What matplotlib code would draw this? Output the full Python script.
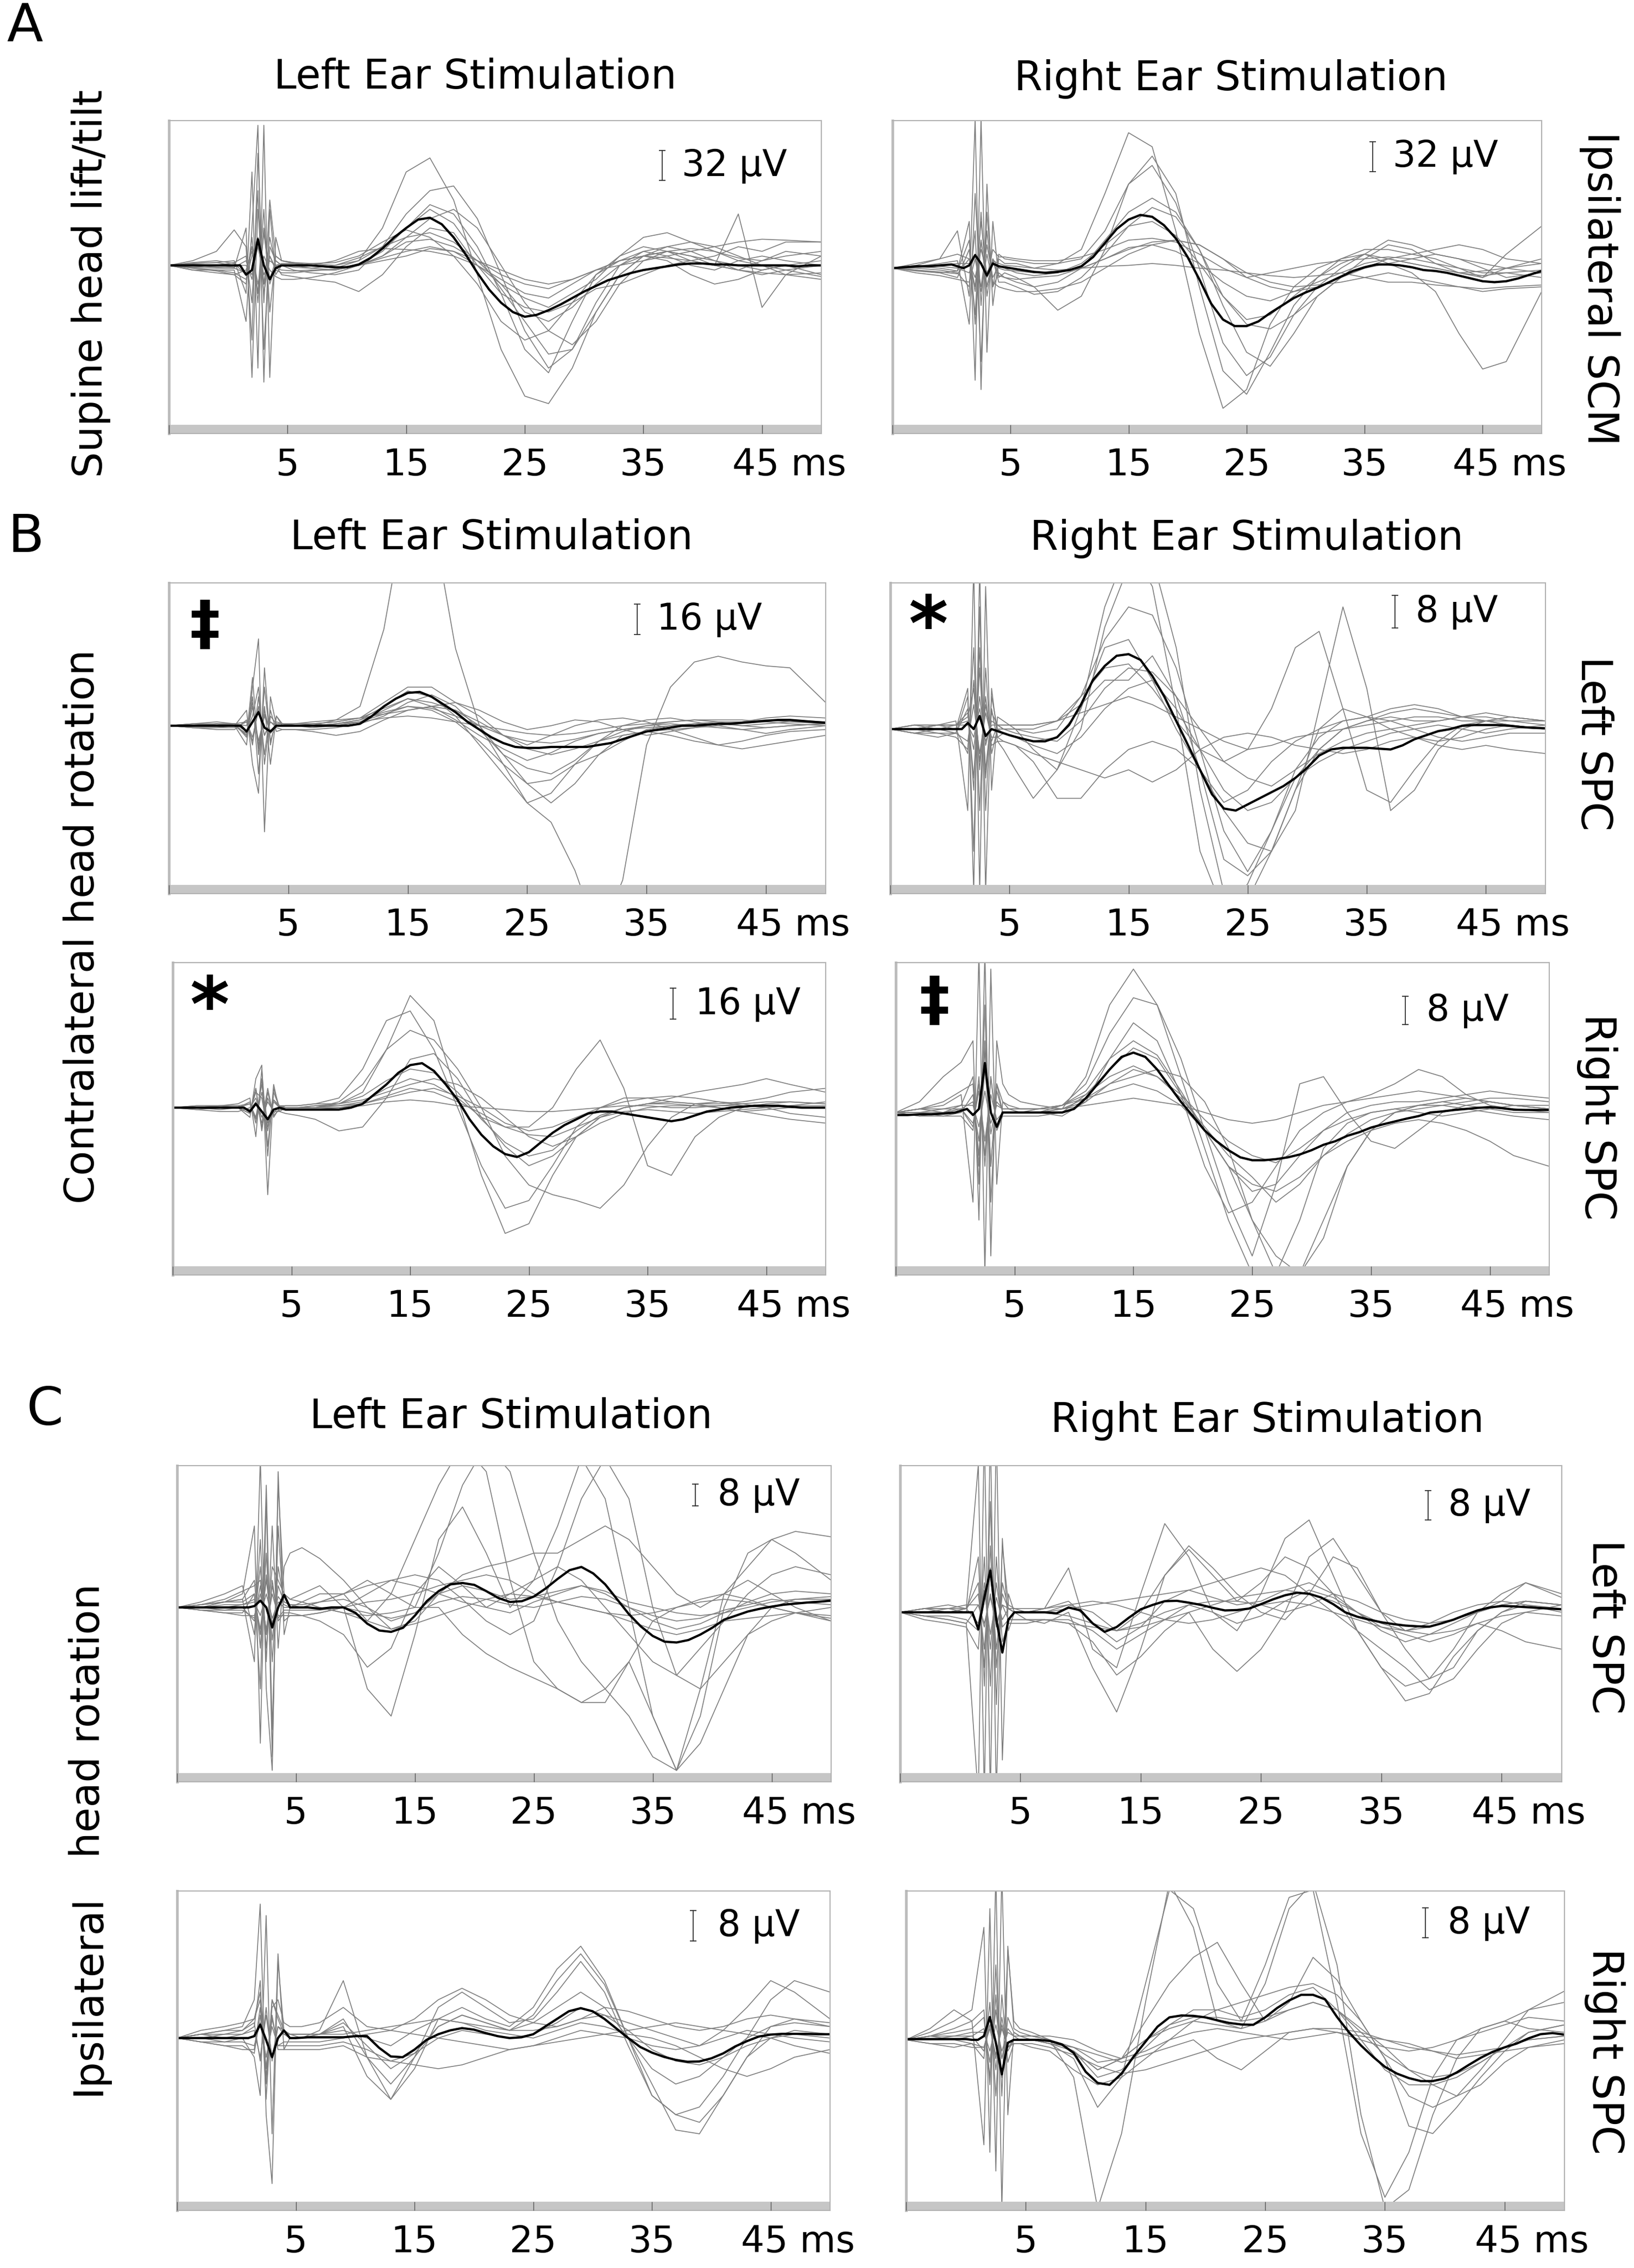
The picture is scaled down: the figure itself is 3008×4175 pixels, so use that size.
import matplotlib
matplotlib.use("Agg")
import matplotlib.pyplot as plt
import matplotlib.transforms as mtransforms
from matplotlib.patches import Rectangle

# sample times (ms) of the single trials and of the averaged trace
t_trial = [-5, -3, -1, 0.5, 1.5, 2.0, 2.5, 3.0, 3.5, 4.0, 4.5, 5.5, 7, 9, 11, 13, 15, 17, 19, 21,
           23, 25, 27, 29, 31, 33, 35, 37, 39, 41, 43, 45, 47, 50]
t_mean = [-5, -4, -3, -2, -1, 0, 0.5, 1, 1.5, 2, 2.5, 3, 3.5, 4, 4.5,
          5, 6, 7, 8, 9, 10, 11, 12, 13, 14, 15, 16, 17, 18, 19, 20, 21, 22, 23, 24,
          25, 26, 27, 28, 29, 30, 31, 32, 33, 34, 35, 36, 37, 38, 39, 40, 41, 42, 43, 44,
          45, 46, 47, 48, 49, 50]

tick_pos = [-5, 5, 15, 25, 35, 45]
tick_lab = ["", "5", "15", "25", "35", "45 ms"]

# ---- A: supine head lift/tilt, ipsilateral SCM (uV) ----
a_left_mean = [0, 0, 0, 0, 0, 0, 0, 0, -10, -5, 28, 0, -15, -3, 0,
               0, 0, 0, -1, -2, -2, 1, 8, 18, 30, 40, 49, 51, 44, 30, 12, -8, -26, -40, -50,
               -55, -53, -48, -42, -35, -28, -22, -16, -12, -8, -5, -3, -1, 1, 2, 2, 1, 1, 0, 0,
               0, 0, 0, -1, 0, 0]
a_left_trials = [
    [0, 2, 3, 5, -30, 100, -110, 150, -120, 30, 5, 3, 2, 0, 5, 40, 100, 115, 70, -10, -90, -140, -148, -110, -50, -10, 10, 15, 10, 5, 0, -5, 0, 5],
    [0, -3, -5, -5, -60, 40, 150, -125, 60, -10, 0, -5, -8, -10, -5, 20, 55, 80, 85, 50, -10, -70, -110, -90, -40, 0, 15, 10, 0, -5, 5, 10, 5, 0],
    [0, 5, 15, 38, 20, -80, 120, -40, 70, 10, 5, 2, 0, -2, 0, 15, 40, 65, 55, 20, -30, -90, -115, -60, -10, 10, 20, 15, 5, 0, 55, -45, -10, 10],
    [0, -5, -8, -10, -20, 30, -40, 40, -20, 0, -10, -12, -15, -18, -28, -10, 20, 40, 35, 0, -30, -45, -50, -40, -25, -20, -10, 0, 5, 10, 20, 15, 25, 25],
    [0, 0, -2, -3, 40, -120, 60, -20, 30, 0, 0, 0, 2, 3, 10, 25, 38, 30, 10, -20, -60, -80, -70, -40, -10, 5, 15, 20, 15, 5, -5, -10, -5, 0],
    [0, 3, 5, 2, -10, 20, -30, 60, -50, 10, 5, 3, 0, 5, 15, 18, 17, 15, 10, 0, -20, -35, -45, -30, -15, 10, 30, 35, 25, 15, 5, 0, -10, -15],
    [0, -2, 0, 3, 10, -40, 80, -90, 20, 5, 0, 0, -3, -5, 0, 10, 30, 50, 60, 40, 0, -40, -70, -85, -60, -20, 5, 15, 10, 0, -5, 5, 15, 10],
    [0, -5, -5, -8, -15, 10, 30, -30, 10, -5, -8, -8, -6, -4, 0, 5, 10, 18, 15, 5, -5, -15, -20, -15, -5, 0, 5, 10, 15, 20, 25, 28, 27, 25],
    [0, 2, 3, 0, 0, -10, 20, -10, 5, 0, 2, 2, 0, -3, 5, 20, 40, 60, 45, 10, -25, -60, -95, -90, -50, -10, 10, 5, -10, -20, -15, -5, 0, -10],
    [0, -3, -6, -10, -5, 15, -20, 10, -5, -12, -15, -15, -13, -8, 0, 8, 15, 20, 15, 0, -15, -30, -35, -20, -5, 5, 10, 20, 25, 20, 10, 0, -5, -12],
    [0, 1, 0, -2, 5, -15, 25, -20, 10, -3, -5, -6, -5, -5, 0, 10, 25, 28, 20, 5, -10, -20, -25, -15, -5, 5, 10, 8, 5, 0, -5, -8, -10, -8],
    [0, -2, -3, -3, -8, 20, -30, 35, -15, 5, 0, -2, -3, 0, 8, 20, 30, 35, 25, 5, -20, -50, -60, -45, -20, 0, 10, 15, 18, 15, 8, 5, 10, 15],
]

a_right_mean = [0, 1, 2, 2, 3, 4, 2, 0, 3, 14, 5, -8, 5, 2, 1,
                0, -2, -4, -5, -4, -2, 2, 12, 27, 42, 52, 57, 55, 46, 32, 12, -12, -38, -55, -62,
                -62, -57, -48, -40, -32, -26, -21, -15, -9, -3, 1, 4, 4, 3, 1, -2, -3, -5, -8, -11,
                -14, -15, -14, -11, -7, -3]
a_right_trials = [
    [0, 3, 10, 40, -30, 160, -130, 90, -40, 10, 5, 5, 0, 5, 20, 80, 145, 130, 40, -70, -150, -130, -60, -20, 0, 10, 20, 20, 15, 10, 0, -10, 0, 10],
    [0, -3, -5, -3, 50, -120, 160, -90, 50, -10, -5, -10, -20, -45, -30, 20, 90, 120, 80, -20, -110, -135, -90, -40, -10, 10, 15, 5, -5, -25, -70, -108, -100, -25],
    [0, 2, 5, 8, -60, 80, -40, 40, -20, 15, 10, 8, 5, 5, 10, 40, 90, 110, 70, 0, -80, -115, -95, -50, -20, 0, 15, 30, 25, 15, 10, 0, -10, -5],
    [0, -2, -5, -10, 20, -50, 60, -30, 10, -15, -15, -20, -28, -25, -10, 15, 45, 65, 55, 20, -30, -60, -65, -50, -30, -10, 10, 25, 20, 5, -5, -10, 15, 45],
    [0, 5, 10, 15, 10, -20, 50, -10, 20, 12, 12, 10, 8, 8, 12, 20, 30, 32, 28, 15, 0, -10, -5, 0, 5, 8, 10, 12, 10, 5, 0, -5, -5, -10],
    [0, 0, -2, -5, -20, 40, -100, 60, -20, -5, -10, -15, -20, -15, 0, 30, 60, 75, 60, 20, -40, -90, -105, -70, -30, -10, 0, 5, 10, 15, 10, 5, 0, -5],
    [0, 2, 0, -3, 30, -60, 30, -20, 10, 0, -2, -3, -5, -3, 0, 10, 20, 28, 30, 25, 10, -10, -20, -25, -20, -10, 0, 10, 15, 20, 25, 20, 10, 5],
    [0, -5, -8, -12, -15, 10, -25, 15, -15, -20, -22, -25, -25, -22, -15, 0, 15, 25, 30, 25, 10, -5, -15, -20, -18, -15, -10, -5, -10, -15, -20, -25, -22, -20],
    [0, 2, 3, 5, 5, -10, 20, -5, 8, 5, 3, 2, 0, -2, 0, 2, 3, 5, 3, 0, -2, -5, -8, -10, -8, -5, -10, -15, -15, -18, -20, -22, -20, -18],
    [0, 1, 2, 0, -5, 15, -20, 25, -10, 3, 0, -5, -8, -5, 5, 25, 45, 50, 35, 5, -30, -55, -50, -30, -10, 5, 15, 10, 5, 0, -5, -3, 0, 5],
    [0, -2, -4, -6, 10, -25, 30, -20, 8, -8, -10, -12, -10, -8, 0, 10, 22, 25, 18, 5, -15, -30, -35, -25, -15, -5, 5, 10, 5, 0, -5, -8, -5, -2],
]

# ---- B: contralateral head rotation, SPC ----
b_top_left_mean = [0, 0, 0, 0, 0, 0, 0, 0, -3, 2, 7, -1, -3, 0, 0,
                   0, 0, 0, 0, 0, 0, 1, 5, 10, 14, 17, 17.5, 15, 11, 7, 2, -2, -6, -9, -11,
                   -11.5, -11.5, -11, -11, -11, -11, -10, -9, -7, -5, -3, -2, -1, 0, 0, 0.5, 1, 1, 1.5, 2,
                   2.5, 3, 3, 2.5, 2, 1.5]
b_top_left_trials = [
    [0, 0, 1, 0, -5, 10, -8, 5, -3, 0, 0, 0, 0, 3, 10, 50, 120, 110, 40, 0, -20, -40, -50, -75, -110, -80, -10, 20, 33, 36, 33, 31, 30, 12],
    [0, 0, 1, 0, -10, 20, 45, -55, 15, 0, 0, 0, 0, 1, 3, 10, 18, 15, 5, -10, -25, -40, -35, -20, -8, -3, 0, 2, 3, 2, 0, 1, 2, 2],
    [0, -1, -1, 0, 8, -20, -35, 30, -10, 5, 0, 0, -1, 0, 2, 8, 14, 12, 8, 0, -15, -30, -40, -30, -15, -5, -3, -5, -8, -10, -8, -5, -3, -2],
    [0, 1, 1, 1, -5, 15, -25, 20, -8, 2, 1, 0, 1, 2, 4, 12, 20, 20, 12, 5, -5, -12, -15, -12, -8, -5, -3, -2, -1, 0, 2, 3, 3, 2],
    [0, -1, -2, -2, 3, -10, 15, -15, 8, -3, -2, -2, -3, -5, -3, 3, 8, 10, 8, 2, -5, -10, -5, 0, 3, 4, 2, -2, -6, -10, -12, -10, -8, -5],
    [0, 0, 0, 1, 0, 12, -12, 8, -4, 0, 0, 1, 1, 0, 2, 6, 10, 8, 2, -8, -20, -30, -28, -20, -15, -8, -2, 0, 1, 1, 0, -1, 0, 1],
    [0, 1, 2, 1, -3, 5, 20, -20, 5, 1, 1, 1, 2, 3, 4, 6, 8, 10, 12, 8, 2, -2, 0, 3, 2, -2, -5, -3, -1, 1, 2, 4, 5, 4],
    [0, -1, -1, -1, 2, -8, 10, -5, 2, -1, -2, -2, -2, -1, 1, 5, 12, 16, 10, -2, -15, -22, -25, -18, -8, 0, 3, 4, 2, 0, -2, -4, -2, 0],
    [0, 0, 1, 1, -6, 25, -15, 10, -20, 5, 1, 0, 0, 1, 2, 4, 5, 4, 2, 0, -2, -4, -5, -4, -2, 0, 1, 2, 3, 3, 3, 2, 1, 0],
    [0, 0, 0, 1, 2, -6, 8, -5, 2, 0, 0, 0, 0, 1, 3, 7, 10, 9, 5, 0, -5, -8, -9, -7, -4, -2, -1, 0, 1, 2, 2, 3, 2, 1],
    [0, 1, 0, 0, -4, 10, -10, 6, -3, 1, 1, 1, 1, 2, 4, 9, 14, 10, 3, -5, -12, -18, -14, -8, -4, -2, 0, 1, 0, -1, -2, -1, 0, 1],
]

b_top_right_mean = [0, 0, 0, 0, 0, 0, 0, 0, 1.5, 0, 3.2, -1.7, 0, -0.5, -1,
                    -1.5, -2.3, -3, -3, -2, 1, 6, 12, 15.5, 18, 18.4, 17, 13, 8, 2, -4, -10, -16, -19.5, -20,
                    -18.5, -17, -15.5, -14, -12, -9.5, -6.5, -5, -4.6, -4.6, -4.6, -4.8, -5, -4, -2.5, -1.5, -0.5, 0, 0.8, 1,
                    1, 1, 0.8, 0.5, 0.3, 0.2]
b_top_right_trials = [
    [0, 0, 1, 0, 10, -40, 40, -40, 10, -2, -1, -2, -3, -2, 5, 30, 45, 35, 5, -30, -45, -38, -25, -12, -5, 0, 2, 4, 5, 4, 3, 2, 1, 0],
    [0, 1, 1, 2, -20, 40, -40, 35, -15, 3, 2, 0, -5, -10, 0, 25, 40, 42, 20, -15, -40, -42, -30, -15, 0, 5, 3, 0, -2, -3, -2, 0, 1, 0],
    [0, -1, -2, -1, 5, -15, 20, -12, 5, -3, -5, -10, -17, -10, 5, 20, 22, 12, 0, -10, -20, -28, -30, -20, 5, 30, 10, -20, -15, -5, 0, 2, 3, 2],
    [0, 1, 0, 1, 3, 10, -8, 6, -3, 1, 0, 0, 0, 2, 8, 15, 16, 10, 2, -5, -8, -5, 5, 20, 24, 5, -15, -18, -10, -3, 1, 2, 1, 0],
    [0, 0, -1, -1, -3, 6, -6, 4, -2, -2, -3, -4, -8, -17, -17, -10, -5, -3, -5, -10, -18, -15, -8, -3, 0, 2, 3, 5, 6, 5, 3, 2, 2, 1],
    [0, 1, 1, 1, 2, -5, 8, -4, 2, 1, 1, 1, 1, 2, 4, 6, 8, 6, 3, 0, -3, -5, -4, -2, -1, 0, 1, 2, 3, 3, 2, 2, 3, 2],
    [0, 0, 0, -1, 8, -30, 30, -20, 8, 0, 0, 0, -1, 0, 8, 22, 30, 28, 15, -5, -25, -35, -25, -10, -2, 2, 3, 2, 0, -2, -3, -2, -1, -1],
    [0, -1, -1, -2, -5, 12, -10, 8, -4, -3, -3, -4, -6, -8, -10, -12, -10, -13, -10, -5, -2, -1, -2, -4, -5, -6, -5, -3, -2, -4, -5, -4, -5, -6],
    [0, 0, 1, 1, 1, -2, 5, -3, 1, 1, 1, 1, 1, 2, 6, 12, 12, 18, 8, -10, -32, -36, -30, -15, -5, 0, 2, 3, 2, 2, 3, 4, 3, 2],
    [0, 0, 1, 1, 4, -12, 15, -10, 4, 1, 0, -1, -2, -3, 2, 10, 15, 14, 8, 0, -8, -12, -14, -10, -6, -3, -1, 0, 1, 2, 3, 3, 2, 2],
    [0, -1, 0, 0, -6, 20, -20, 15, -6, 0, -1, -2, -4, -6, -2, 5, 10, 12, 5, -5, -15, -20, -18, -12, -8, -5, -3, -1, 0, 1, 0, -1, 0, 1],
]

b_bot_left_mean = [0, 0, 0, 0, 0, 0, 0, 0, -2, 2, -2, -6, -1, 0, -1,
                   -1, -1, -1, -1, -1, 0, 2, 7, 12, 18, 22, 23, 19, 12, 4, -6, -14, -20, -24, -25.5,
                   -23, -18, -13, -9, -6, -3, -2, -2, -3, -4, -5, -6, -7, -6, -4, -2, -1, 0, 0.5, 1,
                   1, 1, 0.5, 0, 0, 0]
b_bot_left_trials = [
    [0, 0, 0, 0, -5, 15, 22, -45, 10, 0, 0, 0, 0, 2, 8, 30, 58, 45, 5, -35, -65, -60, -35, -15, -5, 0, 2, 3, 2, 0, -2, -1, 0, 0],
    [0, 1, 1, 2, 5, -15, 20, -20, 8, 0, 1, 1, 2, 5, 20, 45, 50, 30, 0, -30, -52, -48, -30, -10, 0, 5, 5, 3, 2, 2, 3, 5, 8, 10],
    [0, -1, 0, 0, -3, 10, -10, 5, -3, 1, 0, 0, 0, 3, 12, 30, 40, 35, 20, 0, -25, -40, -45, -48, -52, -40, -20, -5, 2, 3, 2, 0, -3, -5],
    [0, 0, 1, 0, 2, -5, 12, -8, 3, 0, 0, 0, 0, 1, 3, 10, 15, 12, 5, -5, -10, -10, 0, 20, 35, 10, -30, -35, -15, -5, 0, 2, 3, 2],
    [0, -1, -2, -2, 0, 5, -5, 3, -2, -2, -3, -4, -6, -12, -10, 5, 25, 28, 15, -5, -20, -30, -25, -15, -5, 0, 2, 5, 8, 10, 12, 15, 12, 8],
    [0, 1, 1, 1, -2, 8, 5, -12, 4, 1, 1, 1, 2, 2, 4, 8, 12, 15, 12, 5, -5, -15, -20, -15, -8, -3, 0, 1, 1, 0, -2, -4, -6, -8],
    [0, 0, 0, 0, 3, -8, 15, -25, 12, -2, 0, 0, 1, 1, 2, 5, 8, 10, 6, 0, -8, -12, -10, -5, 0, 3, 5, 6, 5, 3, 1, 0, 1, 3],
    [0, 0, 0, 0, -1, 3, -8, 10, -5, 0, 0, 0, 0, 0, 1, 3, 4, 3, 1, 0, -1, -2, -2, -1, 0, 1, 1, 0, 0, 1, 1, 1, 0, 0],
    [0, 0, 1, 1, 2, -6, 8, -10, 4, 0, 0, 0, 1, 2, 6, 14, 20, 18, 8, -6, -18, -25, -22, -12, -4, 0, 2, 2, 1, 1, 2, 3, 3, 2],
    [0, 0, -1, 0, -3, 10, -12, 8, -4, -1, -1, -1, -1, 0, 2, 6, 10, 8, 3, -3, -10, -14, -15, -10, -5, -2, -1, -2, -3, -2, -1, 0, 1, 1],
]

b_bot_right_mean = [-0.7, -0.7, -0.5, -0.5, -0.3, 0, 0.5, 1, -0.7, 1, 13.8, 0, -4, 0, 0,
                    0, 0, 0, 0, 0, 1, 4, 8, 12, 15.5, 16.7, 15.5, 12, 7.5, 3, -1, -5, -8, -10.5, -12.5,
                    -13.3, -13.3, -13, -12.5, -11.7, -10.5, -9, -8, -6.5, -5.5, -4.2, -3.3, -2.5, -1.7, -1, 0, 0.3, 0.7, 1, 1.3,
                    1.5, 1.2, 0.8, 0.7, 0.7, 0.7]
b_bot_right_trials = [
    [0, 3, 10, 14, 20, -30, 45, -40, 20, 8, 5, 3, 2, 1, 10, 30, 40, 30, 10, -10, -30, -45, -50, -45, -30, -15, -5, 0, 2, 3, 4, 3, 2, 1],
    [0, 1, 2, 5, -25, 45, -45, 40, -20, 3, 1, 0, 0, 2, 8, 22, 32, 30, 15, -5, -25, -40, -20, 8, 10, 0, -8, -10, -5, 0, 2, 3, 2, 1],
    [0, -1, 0, 2, 10, -20, 30, -25, 8, 0, 0, 0, 0, -1, 3, 15, 25, 20, 5, -15, -28, -25, -15, -5, 0, 3, 5, 8, 12, 10, 5, 2, 1, 0],
    [0, 0, -1, -1, -5, 10, -15, 10, -5, -1, -1, -1, -1, 0, 5, 12, 18, 15, 5, -5, -15, -20, -22, -18, -12, -8, -5, -3, -2, -3, -5, -8, -12, -15],
    [0, 1, 1, 1, 3, -8, 12, -6, 3, 1, 1, 1, 1, 2, 5, 10, 13, 10, 5, -2, -8, -12, -14, -10, -5, -2, 0, 1, 2, 2, 3, 4, 4, 3],
    [0, -1, -1, 0, 5, -12, 18, -15, 6, 0, 0, 0, 0, 1, 4, 8, 10, 12, 10, 3, -10, -30, -45, -30, -10, -3, 0, 1, 0, -1, 0, 1, 2, 2],
    [0, 1, 0, 1, -3, 6, -8, 5, -2, 0, 0, 0, 1, 2, 4, 6, 8, 6, 2, -5, -15, -30, -40, -45, -35, -15, -5, 0, 2, 3, 2, 1, 0, 0],
    [0, 0, 1, 2, 2, -4, 6, -3, 2, 1, 1, 1, 1, 1, 2, 3, 4, 3, 2, 0, -2, -3, -2, 0, 2, 3, 4, 5, 6, 5, 4, 3, 2, 1],
    [0, 1, 3, 6, 8, -15, 20, -15, 8, 3, 2, 1, 1, 2, 6, 15, 20, 16, 6, -5, -15, -22, -20, -12, -5, 0, 2, 3, 3, 4, 5, 6, 5, 4],
    [0, 0, 0, 1, -4, 8, -12, 10, -4, 0, 0, 0, 0, 1, 3, 8, 12, 10, 4, -4, -12, -18, -25, -20, -12, -6, -2, 0, 1, 2, 1, 0, -1, -2],
]

# ---- C: ipsilateral head rotation, SPC ----
c_top_left_mean = [0, 0, 0, 0, 0, 0, 0, 0, 0.5, 2.5, 0, -7.4, 0, 4.6, 0,
                   0, 0, -0.5, 0, 0, -2, -6, -8.5, -9, -7.5, -3, 2.3, 6, 8.5, 9, 8.3, 6, 3.5, 2, 2.3,
                   4, 7, 10.5, 13.7, 14.9, 12.5, 8.5, 3, -2.5, -7, -10.5, -12.6, -12.9, -12, -10, -7.5, -4.5, -3, -1.5, -0.5,
                   0.3, 1, 1.4, 1.8, 2.1, 2.5]
c_top_left_trials = [
    [0, 1, 2, 3, -20, 55, -30, -60, 50, -10, 0, 2, 5, 5, -5, 5, 25, 45, 60, 50, 10, -20, -30, -35, -30, -20, -40, -60, -40, 0, 20, 25, 20, 10],
    [0, 0, 2, 5, 30, -50, 40, -55, 45, 5, 3, 5, 8, 0, -30, -40, -10, 25, 37, 20, 0, 10, 30, 55, 40, 0, -40, -60, -30, 5, 10, 5, 0, -5],
    [0, 2, 5, 8, -10, 25, -20, 30, -15, 15, 20, 22, 18, 10, 0, -8, -5, 5, 12, 15, 17, 20, 20, 25, 30, 25, 15, 5, 0, 5, 15, 25, 28, 26],
    [0, -1, -2, -2, 5, -30, 45, -45, 30, -5, -3, -3, -5, -10, -22, -15, 5, 15, 8, 0, 5, 10, 15, 10, 0, -10, -20, -25, -15, -5, 5, 12, 15, 12],
    [0, 1, 2, 3, 10, -15, 20, -20, 15, 2, 1, 0, 2, 5, 10, 5, 0, 20, 45, 60, 50, 20, -5, -20, -30, -40, -55, -60, -50, -30, -10, 0, 3, 3],
    [0, -1, -1, 0, -5, 15, -15, 10, -5, -2, -2, -3, -2, 0, 5, 10, 12, 10, 3, -5, -10, -5, 15, 40, 55, 40, 0, -25, -30, -20, -10, -5, -2, 0],
    [0, 0, 1, 1, 3, -8, 10, -6, 4, 1, 0, 0, 2, 5, 8, 10, 8, 5, 2, 0, -2, 2, 5, 8, 6, 2, 0, -2, -3, -2, 0, 2, 3, 4],
    [0, -1, -2, -3, -3, 5, -8, 5, -3, -3, -3, -3, -2, 0, 2, 3, 5, 8, 10, 12, 10, 5, 2, 0, -2, -5, -8, -10, -8, -5, -4, -3, -2, -3],
    [0, 0, 0, 1, 2, -3, 5, -4, 2, 0, 0, 0, 0, -2, -5, -8, -6, -3, 0, 3, 5, 4, 2, 0, -2, -3, -2, 0, 2, 3, 2, 0, -2, -4],
    [0, 1, 3, 6, 8, 10, -10, 15, 10, 5, 3, 2, 0, -2, -3, -2, 0, 0, -10, -17, -22, -26, -30, -35, -35, -20, -5, 0, 3, 5, 3, 0, -2, -5],
    [0, 1, 2, 2, 5, -10, 12, -12, 8, 2, 1, 1, 2, 3, 0, -5, -2, 5, 8, 6, 3, 4, 6, 8, 5, 0, -5, -8, -6, -2, 2, 5, 6, 5],
    [0, 0, -1, -1, -4, 8, -10, 8, -4, -1, -1, -1, -1, 0, -2, -4, -2, 2, 4, 3, 1, 0, 2, 4, 3, 0, -3, -5, -4, -1, 1, 3, 2, 1],
]

c_top_right_mean = [0, 0, 0, 0, 0, 0, 0, 0, -4.6, 4, 11.3, -2, -10.9, -2, 0,
                    0, 0, 0, -0.3, 1.3, 0.5, -3, -5.3, -4, -1.5, 0.8, 2, 3, 3.1, 2.6, 2, 1.2, 0.5, 0.6, 1,
                    2.2, 3.5, 4.6, 5.3, 5, 4, 2.2, 0, -1.2, -2, -2.7, -3.2, -3.6, -3.8, -3.9, -3, -2, -0.7, 0.5, 1.3,
                    1.7, 1.6, 1.4, 1.2, 1, 0.8]
c_top_right_trials = [
    [0, 0, 1, 1, 40, -50, 50, -50, 20, -5, 0, 0, 1, 12, -10, -15, 5, 24, 15, 0, -5, 5, 20, 25, 10, -5, -15, -20, -18, -10, 0, 5, 8, 5],
    [0, -1, -2, -3, -50, 50, -50, 50, -40, 5, 0, -2, -3, 0, -15, -27, -10, 10, 17, 10, 3, 8, 15, 12, 5, -5, -15, -24, -22, -12, -5, 0, 2, 1],
    [0, 1, 1, 0, 15, -20, 30, -25, 18, 2, 1, 0, 0, 2, 0, -5, 0, 10, 18, 12, 5, 0, -2, 5, 15, 12, 0, -10, -18, -15, -5, 0, 3, 2],
    [0, -2, -3, -4, -10, 15, -20, 15, -8, -3, -3, -3, -2, -3, -8, -17, -12, -5, 0, -10, -16, -10, 0, 15, 20, 10, 0, -5, -3, 0, 2, 3, 2, 0],
    [0, 0, 0, 1, 5, -10, 12, -10, 5, 1, 0, 0, 0, 1, 2, 3, 4, 5, 6, 8, 10, 12, 10, 5, 0, -5, -10, -15, -21, -18, -10, -3, 0, 2],
    [0, 1, 2, 1, -3, 6, -6, 4, -2, 1, 0, 0, 0, -1, -3, -5, -3, 0, 2, 3, 3, 2, 0, 2, 5, 3, 0, -2, -3, -2, 0, 3, 8, 4],
    [0, -1, -2, -3, 2, -4, 5, -4, 2, -2, -2, -2, -2, -3, -4, -5, -4, -2, 0, 2, 4, 5, 6, 5, 3, 0, -3, -5, -6, -5, -3, -5, -8, -10],
    [0, 1, 1, 2, 2, -3, 4, -3, 2, 1, 1, 1, 1, 2, 3, 2, 0, -2, -3, -2, 0, 2, 3, 2, 0, -2, -4, -5, -4, -2, 0, 2, 3, 2],
    [0, 1, 0, 1, 8, -15, 18, -15, 8, 1, 0, 0, 1, 3, -3, -8, -4, 3, 6, 4, 2, 3, 6, 8, 5, 0, -5, -8, -6, -3, 0, 2, 3, 2],
    [0, -1, -1, -2, -5, 8, -10, 8, -4, -2, -2, -2, -2, -2, -5, -10, -6, -2, 2, 0, -3, -1, 3, 6, 4, 0, -4, -6, -8, -6, -3, -1, 0, -1],
]

c_bot_left_mean = [0, 0, 0, 0, 0, 0, 0, 0, 0.5, 3.5, -0.5, -5, 0, 2, 0,
                   0, 0.2, 0.2, 0.2, 0.2, 0.5, 0.5, -2.5, -4.8, -5, -3, -0.5, 1, 2, 2.6, 2.2, 1.3, 0.5, 0, 0.2,
                   1, 3, 5, 7, 7.8, 7, 5, 2.5, 0, -2.3, -3.8, -4.9, -5.7, -6.2, -6.1, -5.3, -4, -2.2, -0.8, 0.4,
                   0.9, 1.1, 1.1, 1.1, 1, 1]
c_bot_left_trials = [
    [0, 1, 2, 3, 10, 35, -20, -38, 20, 2, 1, 0, 1, 5, -5, -16, -8, 5, 8, 5, 3, 8, 18, 24, 15, 0, -15, -20, -22, -15, -5, 3, 5, 3],
    [0, -1, -1, 0, -5, -15, 32, -25, 22, -3, 0, 0, 2, 15, -5, -12, -5, 3, 6, 4, 2, 6, 15, 22, 14, 0, -12, -24, -25, -15, -5, 0, 2, 1],
    [0, 1, 0, 1, 3, 15, -16, 10, 5, 1, 0, 0, 1, 3, -10, -16, -5, 8, 12, 8, 4, 5, 12, 20, 12, -2, -15, -20, -18, -10, 0, 10, 15, 12],
    [0, 2, 3, 4, 5, 10, -8, 8, 10, 4, 3, 3, 4, 8, 3, 2, 5, 10, 13, 10, 6, 4, 3, 5, 8, 7, 5, 3, 2, 3, 5, 6, 5, 4],
    [0, -1, -2, -3, -3, 8, -10, 6, -3, -3, -3, -3, -3, -2, -5, -6, -7, -8, -7, -5, -3, -2, 0, 2, 1, 0, -2, -3, -2, 0, 2, 1, 0, -1],
    [0, 0, 1, 1, 2, -5, 6, -5, 3, 1, 1, 1, 1, 2, 0, -2, 2, 5, 4, 2, 1, 0, 2, 4, 3, 1, 0, -2, -5, -8, -10, -8, -5, -3],
    [0, 1, 2, 2, 4, -6, 8, -6, 3, 2, 1, 1, 1, 1, 2, 3, 4, 5, 4, 3, 2, 2, 3, 5, 6, 4, 2, 0, -2, 2, 8, 15, 12, 5],
    [0, 0, -1, -1, -2, 4, -5, 3, -2, -1, -1, -1, -1, 0, 1, 2, 1, 0, -1, -2, -3, -2, -1, 0, 1, 2, 3, 4, 3, 2, 1, 0, -2, -4],
    [0, 1, 1, 2, 5, 12, -12, 10, 6, 2, 1, 1, 1, 4, -2, -8, -4, 3, 6, 4, 2, 4, 8, 12, 8, 0, -8, -12, -10, -5, 0, 3, 4, 3],
    [0, -1, -2, -2, -4, 6, -8, 5, -2, -2, -2, -2, -2, -1, -3, -6, -4, 0, 2, 1, 0, 1, 4, 8, 6, 2, -3, -6, -7, -5, -2, 0, 1, 0],
]

c_bot_right_mean = [0.2, 0.2, 0.2, 0.2, 0.2, 0.2, 0, 0, 1, 6.1, -0.8, -9.2, -0.8, 0, 0,
                    0, 0, -0.3, -1.2, -3.5, -8.5, -11.5, -12, -9, -4.5, -0.5, 3.5, 6, 6.5, 6.4, 6, 5.2, 4.5, 4.1, 4,
                    6, 8.5, 10.5, 12, 12, 10.8, 6.1, 2, -1.5, -4.5, -7.2, -9, -10.2, -11, -11, -10.3, -8.7, -6.7, -4.8, -3.2,
                    -2, -1, 0.4, 1.5, 1.8, 1.4]
c_bot_right_trials = [
    [0, 2, 5, 8, 30, -30, 45, -45, 25, 3, 2, 1, 0, -10, -45, -25, 10, 42, 30, 5, 3, 15, 35, 42, 20, -20, -45, -40, -20, -5, 3, 5, 8, 10],
    [0, 3, 8, 5, -28, 35, -35, 45, -20, 2, 1, 0, -1, -5, -18, -10, 15, 40, 35, 15, 5, 20, 38, 40, 10, -25, -42, -30, -10, 0, 3, 5, 3, 2],
    [0, 1, 3, 5, 8, -12, 20, -15, 24, 5, 3, 2, 0, -3, -8, -5, 5, 15, 22, 26, 15, 5, 10, 22, 16, 5, -5, -15, -18, -15, -8, 0, 8, 13],
    [0, -1, -2, -1, -5, 10, -15, 12, -6, -1, -1, -2, -3, -8, -12, -10, -5, 0, 5, 8, 10, 12, 14, 15, 12, 5, -5, -23, -25, -18, -10, -3, 2, 4],
    [0, 0, 1, 1, 3, -6, 8, -5, 3, 1, 0, 0, 0, -3, -8, -5, 0, 3, 5, 4, 3, 5, 8, 10, 8, 3, -2, -8, -12, -15, -12, -6, -2, 0],
    [0, 1, 0, -1, -2, 4, -5, 4, -2, 0, 0, 0, -1, -2, -4, -6, -4, -2, 0, -5, -8, -3, 2, 3, 2, 0, -2, -3, -2, 0, 2, 4, 6, 5],
    [0, 1, 1, 2, 2, -3, 4, -3, 2, 1, 1, 1, 1, 0, -3, -5, -3, 0, 2, 3, 2, 1, 0, 1, 2, 1, 0, -1, -3, -5, -4, -3, -2, -1],
    [0, -1, -1, -2, -2, 3, -4, 3, -2, -1, -1, -1, -2, -4, -7, -9, -8, -6, -4, -2, 0, 1, 2, 3, 3, 2, 0, -2, -3, -4, -3, -2, 0, 1],
    [0, 1, 2, 3, 6, -10, 12, -10, 6, 2, 1, 1, 0, -2, -6, -5, 0, 4, 6, 6, 5, 6, 8, 10, 8, 2, -4, -8, -10, -9, -6, -2, 2, 4],
    [0, 0, 0, 1, -3, 6, -8, 6, -3, 0, 0, 0, -1, -3, -10, -8, -2, 4, 8, 8, 6, 8, 12, 14, 8, 0, -8, -12, -12, -10, -6, -2, 0, 1],
]

W, H = 3008, 4175
fig = plt.figure(figsize=(W / 100, H / 100), dpi=100)


def panel(box, ylim, mean, trials, bar_uv, bar_xy, text_x, mark=None, mark_xy=None, mark_size=80):
    l, t, r, b = box
    ax = fig.add_axes([l / W, 1 - b / H, (r - l) / W, (b - t) / H])
    for tr in trials:
        ax.plot(t_trial, tr, color="#7e7e7e", lw=1.2, zorder=2, solid_joinstyle="round")
    ax.plot(t_mean, mean, color="black", lw=3.0, zorder=2.1, solid_joinstyle="round")
    ax.set_xlim(-5, 50)
    ax.set_ylim(*ylim)
    ax.set_yticks([])
    ax.set_axisbelow(False)
    for sp in ax.spines.values():
        sp.set_color("#b2b2b2")
        sp.set_linewidth(1.5)
    ax.spines["left"].set_linewidth(3.5)
    ax.spines["left"].set_color("#bcbcbc")
    # grey time bar along the bottom edge
    ax.add_patch(Rectangle((0, 0), 1, 16 / (b - t), transform=ax.transAxes,
                           facecolor="#c6c6c6", edgecolor="none", zorder=2.3))
    ax.set_xticks(tick_pos)
    ax.set_xticklabels(tick_lab)
    ax.tick_params(axis="x", direction="in", length=11.5, width=1.0, color="#555555",
                   labelsize=49, pad=18)
    last = ax.get_xticklabels()[-1]
    last.set_transform(last.get_transform() + mtransforms.ScaledTranslation(0.5, 0, fig.dpi_scale_trans))
    # amplitude scale bar
    h = bar_uv / (ylim[1] - ylim[0])
    bx, by = bar_xy
    ax.plot([bx, bx], [by - h / 2, by + h / 2], transform=ax.transAxes, color="#333333",
            lw=1.3, marker="_", ms=9, mew=1.3, zorder=3)
    ax.text(text_x, by, f"{bar_uv} µV", transform=ax.transAxes, ha="left", va="center",
            fontsize=48, zorder=3)
    if mark:
        ax.text(mark_xy[0], mark_xy[1], mark, transform=ax.transAxes, ha="center", va="center",
                fontsize=mark_size, fontweight="bold", zorder=3)
    return ax


panel((311, 222, 1512, 798), (-180, 155), a_left_mean, a_left_trials, 32, (0.756, 0.856), 0.786)
panel((1643, 222, 2838, 798), (-177, 158), a_right_mean, a_right_trials, 32, (0.740, 0.885), 0.771)
panel((311, 1073, 1520, 1645), (-87, 74), b_top_left_mean, b_top_left_trials, 16, (0.713, 0.883), 0.743,
      "‡", (0.055, 0.860), 80)
panel((1639, 1073, 2845, 1645), (-40.4, 35.9), b_top_right_mean, b_top_right_trials, 8, (0.770, 0.907), 0.802,
      "*", (0.058, 0.850), 100)
panel((318, 1772, 1520, 2347), (-86.5, 75), b_bot_left_mean, b_bot_left_trials, 16, (0.766, 0.868), 0.800,
      "*", (0.056, 0.848), 100)
panel((1649, 1772, 2852, 2347), (-45.3, 41.8), b_bot_right_mean, b_bot_right_trials, 8, (0.780, 0.847), 0.812,
      "‡", (0.059, 0.873), 80)
panel((326, 2698, 1530, 3280), (-64.2, 52.2), c_top_left_mean, c_top_left_trials, 8, (0.792, 0.907), 0.826)
panel((1657, 2698, 2875, 3280), (-45.9, 39.7), c_top_right_mean, c_top_right_trials, 8, (0.798, 0.875), 0.828)
panel((326, 3481, 1528, 4069), (-45, 38.4), c_bot_left_mean, c_bot_left_trials, 8, (0.790, 0.891), 0.828)
panel((1668, 3481, 2880, 4069), (-45.5, 39.7), c_bot_right_mean, c_bot_right_trials, 8, (0.789, 0.900), 0.823)


def ftext(x, y, s, **kw):
    fig.text(x / W, 1 - y / H, s, ha="center", va="center", **kw)


# panel letters and column titles
ftext(45, 50, "A", fontsize=70)
ftext(48, 990, "B", fontsize=70)
ftext(83, 2596, "C", fontsize=70)
for (x, y, s) in [(875, 143, "Left Ear Stimulation"), (2266, 146, "Right Ear Stimulation"),
                  (905, 991, "Left Ear Stimulation"), (2295, 991, "Right Ear Stimulation"),
                  (941, 2609, "Left Ear Stimulation"), (2333, 2615, "Right Ear Stimulation")]:
    ftext(x, y, s, fontsize=54)

# row labels
ftext(168, 522, "Supine head lift/tilt", fontsize=54, rotation=90)
ftext(153, 1706, "Contralateral head rotation", fontsize=54, rotation=90)
ftext(163, 3168, "head rotation", fontsize=54, rotation=90)
ftext(163, 3672, "Ipsilateral", fontsize=54, rotation=90)
ftext(2945, 531, "Ipsilateral SCM", fontsize=56, rotation=270)
ftext(2933, 1369, "Left SPC", fontsize=56, rotation=270)
ftext(2940, 2056, "Right SPC", fontsize=56, rotation=270)
ftext(2954, 2995, "Left SPC", fontsize=56, rotation=270)
ftext(2954, 3776, "Right SPC", fontsize=56, rotation=270)

fig.savefig("out.png", dpi=100)
